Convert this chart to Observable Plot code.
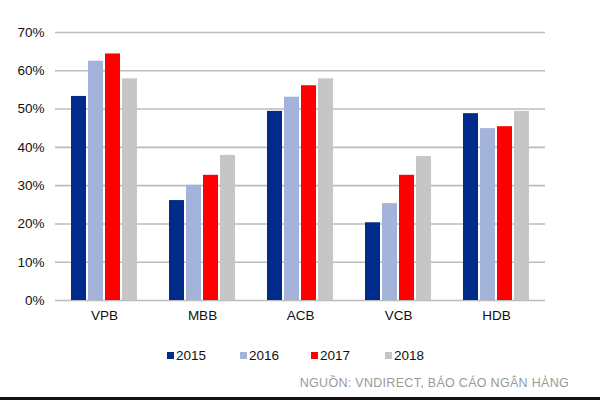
<!DOCTYPE html>
<html>
<head>
<meta charset="utf-8">
<script src="https://cdn.jsdelivr.net/npm/d3@7"></script>
<script src="https://cdn.jsdelivr.net/npm/@observablehq/plot@0.6"></script>
<style>
  html, body { margin: 0; padding: 0; background: #fff; }
  #wrap { position: relative; width: 600px; height: 400px; overflow: hidden; font-family: "Liberation Sans", Arial, sans-serif; }
  #chart { position: absolute; left: 0; top: 0; }
  #legend { position: absolute; top: 346px; left: 0; width: 600px; height: 18px; font-size: 13.5px; color: #111; }
  .item { position: absolute; top: 0; display: flex; align-items: center; height: 18px; }
  .sw { width: 7px; height: 7px; margin-right: 2px; }
  #caption { position: absolute; right: 31px; top: 376px; font-size: 12.5px; color: #9a9a9a; letter-spacing: 0.3px; }
  #bottomline { position: absolute; left: 0; top: 397px; width: 600px; height: 3px; background: #111; }
</style>
</head>
<body>
<div id="wrap">
  <div id="chart"></div>
  <div id="legend"></div>
  <div id="caption">NGUỒN: VNDIRECT, BÁO CÁO NGÂN HÀNG</div>
  <div id="bottomline"></div>
</div>
<script>
const banks = ["VPB", "MBB", "ACB", "VCB", "HDB"];
const years = ["2015", "2016", "2017", "2018"];
const v2015 = [53.3, 26.1, 49.4, 20.3, 48.8];
const v2016 = [62.5, 30.1, 53.1, 25.3, 44.9];
const v2017 = [64.4, 32.7, 56.1, 32.7, 45.4];
const v2018 = [57.9, 37.9, 57.9, 37.6, 49.4];
const yTicks = [0, 10, 20, 30, 40, 50, 60, 70];
const colors = ["#002b8a", "#a3b3da", "#ff0000", "#c6c6c6"];

const series = [v2015, v2016, v2017, v2018];
const data = [];
banks.forEach((b, i) => {
  years.forEach((yr, j) => data.push({bank: b, year: yr, value: series[j][i]}));
});

const chart = Plot.plot({
  width: 600,
  height: 330,
  marginLeft: 54,
  marginRight: 55,
  marginTop: 32,
  marginBottom: 30,
  style: {fontFamily: "Liberation Sans, Arial, sans-serif", fontSize: "13.5px", color: "#111", background: "transparent"},
  facet: {data, x: "bank"},
  fx: {domain: banks, padding: 0, label: null, axis: "bottom", tickSize: 0, tickPadding: 10},
  x: {domain: years, paddingInner: 0.14, paddingOuter: 0.82, axis: null},
  y: {domain: [0, 70], ticks: yTicks, tickFormat: d => d + "%", label: null, tickSize: 0, tickPadding: 11},
  color: {domain: years, range: colors},
  marks: [
    Plot.ruleY(yTicks, {stroke: "#bcbcbc", strokeWidth: 1.6}),
    Plot.barY(data, {x: "year", y: "value", fill: "year"})
  ]
});
document.getElementById("chart").appendChild(chart);

const legend = document.getElementById("legend");
const lx = [167, 240, 311, 385];
years.forEach((yr, j) => {
  const it = document.createElement("div");
  it.className = "item";
  it.style.left = lx[j] + "px";
  const sw = document.createElement("div");
  sw.className = "sw";
  sw.style.background = colors[j];
  it.appendChild(sw);
  const t = document.createElement("span");
  t.textContent = yr;
  it.appendChild(t);
  legend.appendChild(it);
});
</script>
</body>
</html>
